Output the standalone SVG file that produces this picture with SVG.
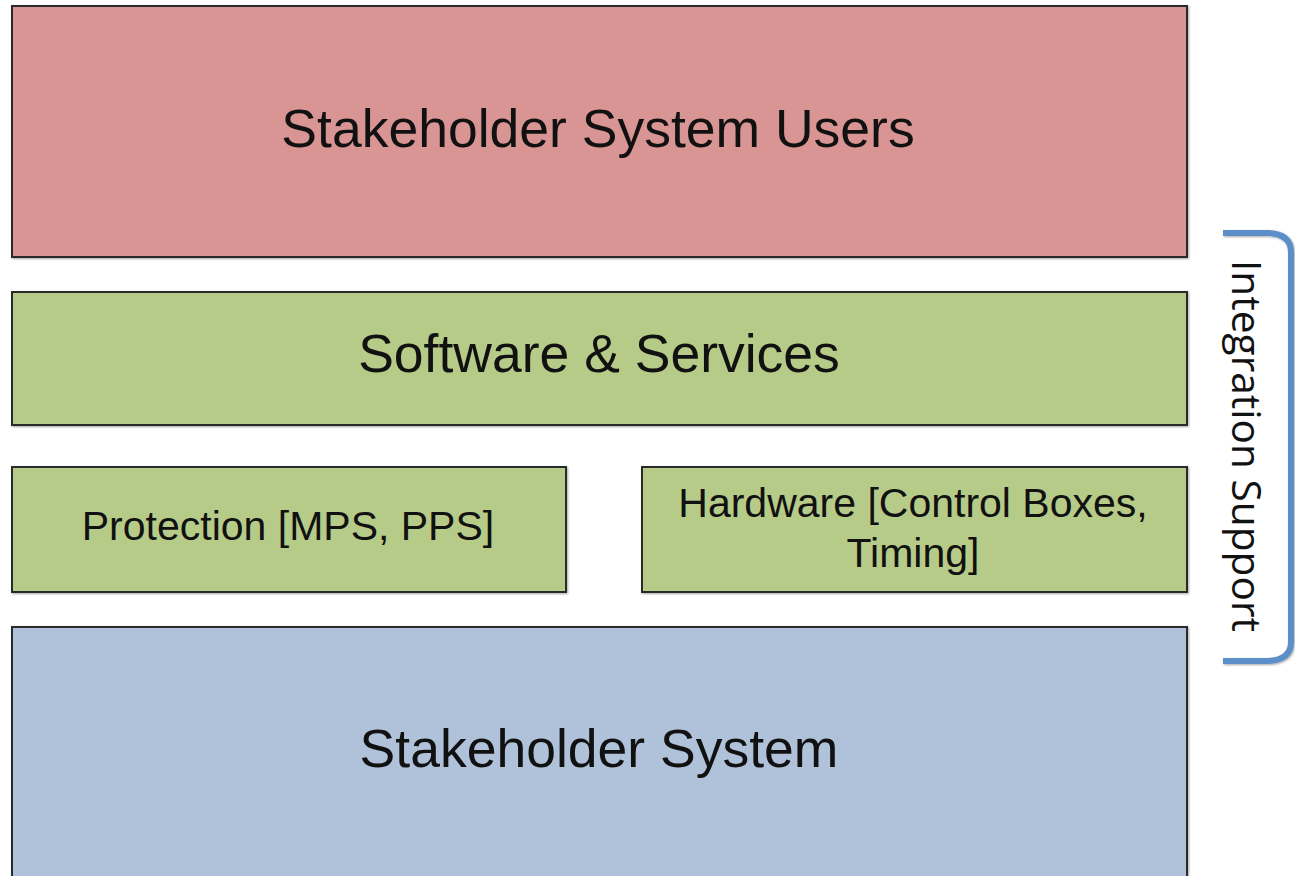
<svg xmlns="http://www.w3.org/2000/svg" width="1295" height="876" viewBox="0 0 1295 876">
<style>
.box{stroke:#2b2b2b;stroke-width:2;filter:url(#sh)}
.red{fill:#d99593}
.green{fill:#b7cb88}
.blue{fill:#b0c2da}
.lbl{font-family:"Liberation Sans",Arial,sans-serif;fill:#111;text-anchor:middle}
.big{font-size:53.5px}
.small{font-size:41px}
.side{font-family:"Open Sans","Lato",sans-serif;font-size:40px;fill:#111;text-anchor:middle}
</style>
<defs>
<filter id="sh" x="-5%" y="-5%" width="110%" height="110%">
<feDropShadow dx="1" dy="1" stdDeviation="1" flood-color="#000" flood-opacity="0.35"/>
</filter>
</defs>
<rect width="1295" height="876" fill="#fff"/>
<g id="users">
<rect class="box red" x="12" y="6" width="1175" height="251"/>
<text class="lbl big" x="598" y="147">Stakeholder System Users</text>
</g>
<g id="software">
<rect class="box green" x="12" y="292" width="1175" height="133"/>
<text class="lbl big" x="599" y="372">Software &amp; Services</text>
</g>
<g id="protection">
<rect class="box green" x="12" y="467" width="554" height="125"/>
<text class="lbl small" x="288" y="540">Protection [MPS, PPS]</text>
</g>
<g id="hardware">
<rect class="box green" x="642" y="467" width="545" height="125"/>
<text class="lbl small" x="913" y="517">Hardware [Control Boxes,</text>
<text class="lbl small" x="913" y="567">Timing]</text>
</g>
<g id="system">
<rect class="box blue" x="12" y="627" width="1175" height="260"/>
<text class="lbl big" x="599" y="767">Stakeholder System</text>
</g>
<g id="connectors">
<path d="M1223,233 L1268,233 Q1291,234 1291,252 L1291,642 Q1291,660 1268,661 L1223,661" fill="none" stroke="#5b8ec8" stroke-width="6" filter="url(#sh)"/>
</g>
<g id="integration">
<text class="side" transform="translate(1232,446) rotate(90)" textLength="372" lengthAdjust="spacingAndGlyphs">Integration Support</text>
</g>
</svg>
